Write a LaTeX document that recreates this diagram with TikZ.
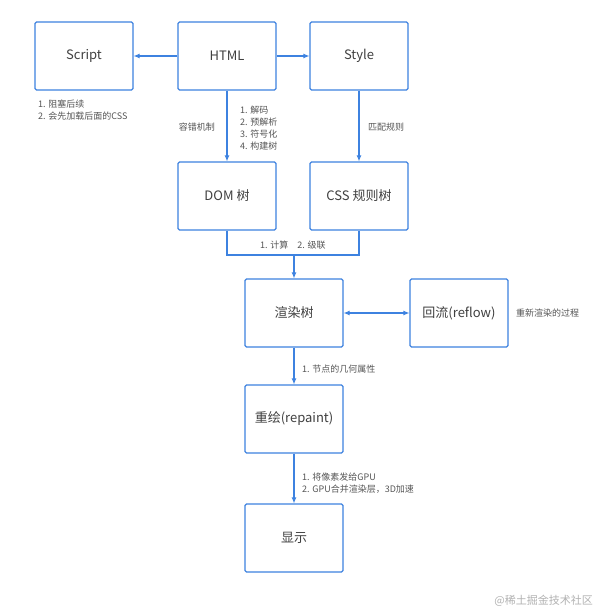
\documentclass[tikz,border=0pt]{standalone}
\usepackage{fontspec}
\setmainfont{Noto Sans CJK SC}
\usetikzlibrary{arrows.meta}
\definecolor{bblue}{HTML}{3D82E0}
\definecolor{tgray}{HTML}{404040}
\definecolor{lgray}{HTML}{555555}
\tikzset{
  box/.style={draw=bblue, line width=1.1pt, rounded corners=1.5pt, minimum width=98pt, minimum height=68pt, inner sep=0pt, text=tgray, font=\fontsize{13}{15}\selectfont},
  conn/.style={draw=bblue, line width=1.1pt, -{Latex[length=6pt,width=5pt]}},
  biconn/.style={draw=bblue, line width=1.1pt, {Latex[length=6pt,width=5pt]}-{Latex[length=6pt,width=5pt]}},
  plainline/.style={draw=bblue, line width=1.1pt},
  note/.style={text=lgray, font=\fontsize{9}{12}\selectfont, inner sep=0pt, align=left},
  wm/.style={text=gray!60, font=\fontsize{11}{12}\selectfont, inner sep=0pt}
}
\begin{document}
\begin{tikzpicture}[x=1pt,y=-1pt]
\useasboundingbox[fill=white] (0,0) rectangle (598,612);
\node[box] (script) at (84,56) {Script};
\node[box] (html) at (227,56) {HTML};
\node[box] (style) at (359,56) {Style};
\node[box] (dom) at (227,196) {DOM 树};
\node[box] (css) at (359,196) {CSS 规则树};
\node[box] (render) at (294,313) {渲染树};
\node[box] (reflow) at (459,313) {回流(reflow)};
\node[box] (repaint) at (294,419) {重绘(repaint)};
\node[box] (show) at (294,538) {显示};

\draw[conn] (html.west) -- (script.east);
\draw[conn] (html.east) -- (style.west);
\draw[conn] (html.south) -- (dom.north);
\draw[conn] (style.south) -- (css.north);
\coordinate (jl) at (227,255);
\coordinate (jr) at (359,255);
\coordinate (jm) at (294,255);
\draw[plainline] (dom.south) -- (jl) -- (jr) -- (css.south);
\draw[conn] (jm) -- (render.north);
\draw[biconn] (render.east) -- (reflow.west);
\draw[conn] (render.south) -- (repaint.north);
\draw[conn] (repaint.south) -- (show.north);

\node[note, anchor=west] (n1) at (38,110) {1. 阻塞后续\\2. 会先加载后面的CSS};
\node[note, anchor=east] (n2) at (215,127) {容错机制};
\node[note, anchor=west] (n3) at (240,128) {1. 解码\\2. 预解析\\3. 符号化\\4. 构建树};
\node[note, anchor=west] (n4) at (368,127) {匹配规则};
\node[note, anchor=west] (n5) at (260,245.5) {1. 计算\quad 2. 级联};
\node[note, anchor=west] (n6) at (516,313) {重新渲染的过程};
\node[note, anchor=west] (n7) at (302,369) {1. 节点的几何属性};
\node[note, anchor=west] (n8) at (302,483) {1. 将像素发给GPU\\2. GPU合并渲染层，3D加速};
\node[wm, anchor=east] (w) at (593,601) {@稀土掘金技术社区};
\end{tikzpicture}
\end{document}
